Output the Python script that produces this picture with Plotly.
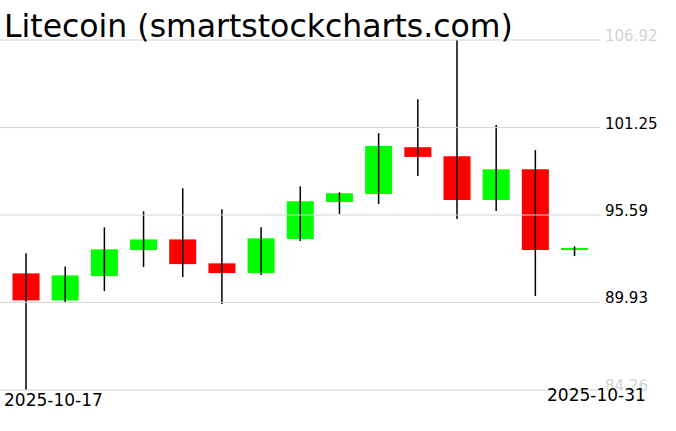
import plotly.graph_objects as go

dates = ["2025-10-17", "2025-10-18", "2025-10-19", "2025-10-20", "2025-10-21",
         "2025-10-22", "2025-10-23", "2025-10-24", "2025-10-25", "2025-10-26",
         "2025-10-27", "2025-10-28", "2025-10-29", "2025-10-30", "2025-10-31"]
opens = [91.81, 90.06, 91.63, 93.32, 94.01, 92.46, 91.83, 94.03, 96.43, 96.95,
         99.98, 99.40, 96.56, 98.55, 93.36]
highs = [93.11, 92.26, 94.79, 95.83, 97.32, 95.96, 94.79, 97.45, 97.06, 100.89,
         103.09, 106.92, 101.41, 99.79, 93.56]
lows = [84.26, 89.93, 90.66, 92.22, 91.57, 89.83, 91.70, 93.90, 95.66, 96.30,
        98.12, 95.33, 95.85, 90.34, 92.93]
closes = [90.06, 91.68, 93.37, 94.01, 92.41, 91.83, 94.08, 96.48, 97.00, 100.05,
          99.35, 96.56, 98.55, 93.32, 93.45]
tick_vals = [84.26, 89.93, 95.59, 101.25, 106.92]
tick_text = ["84.26", "89.93", "95.59", "101.25", "106.92"]
title_text = "Litecoin (smartstockcharts.com)"

UP = "#00ff00"
DOWN = "#ff0000"
GRID = "#d3d3d3"
FONT = "DejaVu Sans"

idx = list(range(len(dates)))

wx, wy = [], []
for i in idx:
    wx += [i, i, None]
    wy += [lows[i], highs[i], None]

fig = go.Figure()
fig.add_trace(go.Scatter(x=wx, y=wy, mode="lines",
                         line=dict(color="black", width=1.5),
                         hoverinfo="skip", showlegend=False))
fig.add_trace(go.Bar(
    x=idx,
    y=[abs(c - o) for o, c in zip(opens, closes)],
    base=[min(o, c) for o, c in zip(opens, closes)],
    width=0.69,
    marker=dict(color=[UP if c >= o else DOWN for o, c in zip(opens, closes)],
                line=dict(width=0)),
    hoverinfo="skip", showlegend=False))

shapes = []
annotations = []
for v, t in zip(tick_vals, tick_text):
    faded = v in (tick_vals[0], tick_vals[-1])
    shapes.append(dict(type="line", xref="paper", x0=0, x1=1, yref="y", y0=v, y1=v,
                       line=dict(color=GRID, width=1), layer="above"))
    annotations.append(dict(
        x=1, xref="paper", y=v, yref="y", text=t, showarrow=False,
        xanchor="left", yanchor="bottom", xshift=3, yshift=-7,
        font=dict(family=FONT, size=15, color=GRID if faded else "black")))

annotations.append(dict(
    x=0, xref="paper", y=0, yref="paper", text=dates[0], showarrow=False,
    xanchor="left", yanchor="top", xshift=2, yshift=3,
    font=dict(family=FONT, size=17, color="black")))
annotations.append(dict(
    x=1, xref="paper", y=0, yref="paper", text=dates[-1], showarrow=False,
    xanchor="right", yanchor="top", xshift=48, yshift=8,
    font=dict(family=FONT, size=17, color="black")))
annotations.append(dict(
    x=0, xref="paper", y=1, yref="paper", text=title_text, showarrow=False,
    xanchor="left", yanchor="bottom", xshift=2, yshift=-7,
    font=dict(family=FONT, size=31.5, color="black")))

pad = 0.065
fig.update_layout(
    width=676, height=431,
    margin=dict(l=0, r=76, t=39, b=40, pad=0),
    paper_bgcolor="white", plot_bgcolor="white",
    showlegend=False,
    annotations=annotations,
    shapes=shapes,
    xaxis=dict(range=[-0.664, 14.65], showgrid=False, zeroline=False,
               showticklabels=False, showline=False, ticks="", fixedrange=True),
    yaxis=dict(range=[tick_vals[0] - pad, tick_vals[-1] + pad],
               showticklabels=False, showgrid=False, zeroline=False,
               showline=False, ticks="", fixedrange=True),
)

fig.write_html("out.html", config={"displayModeBar": False},
               post_script="document.body.style.margin='0';")
